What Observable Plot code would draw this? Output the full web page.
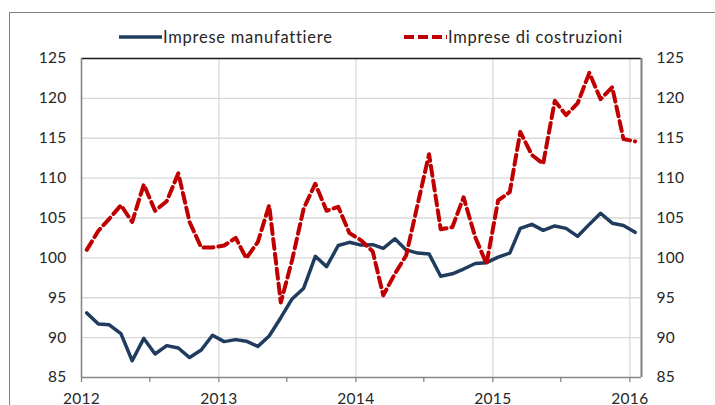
<!DOCTYPE html>
<html>
<head>
<meta charset="utf-8">
<script src="https://cdn.jsdelivr.net/npm/d3@7"></script>
<script src="https://cdn.jsdelivr.net/npm/@observablehq/plot@0.6"></script>
<style>
  html, body { margin: 0; padding: 0; background: #fff; width: 715px; height: 405px; overflow: hidden; }
  #wrap { position: relative; width: 715px; height: 405px; font-family: "Lato", sans-serif; }
  #frame { position: absolute; left: 9px; top: 12px; width: 800px; height: 500px; border: 1px solid #7f7f7f; pointer-events: none; }
  #legend { position: relative; width: 715px; height: 48px; }
  .item { position: absolute; top: 26px; height: 22px; display: flex; align-items: center; font-size: 16.5px; color: #262626; white-space: nowrap; }
  .item span { letter-spacing: 0.75px; }
  .item svg { display: block; margin-right: 1px; }
</style>
</head>
<body>
<div id="wrap">
  <div id="frame"></div>
  <div id="legend"></div>
  <div id="chart"></div>
</div>
<script>
// ---- data (monthly, Jan 2012 – Jan 2016) ----
const seriesNames = ["Imprese manufattiere", "Imprese di costruzioni"];
const seriesColors = ["#1f3b5e", "#c00000"];
const manufattiere = [
  93.1, 91.7, 91.6, 90.5, 87.1, 89.9, 87.95, 89.0, 88.7, 87.5, 88.45, 90.3,
  89.5, 89.75, 89.55, 88.9, 90.2, 92.5, 94.85, 96.2, 100.2, 98.9, 101.55, 101.95,
  101.6, 101.65, 101.2, 102.4, 101.0, 100.6, 100.5, 97.7, 98.0, 98.6, 99.3, 99.4,
  100.1, 100.6, 103.7, 104.2, 103.45, 104.0, 103.7, 102.7, 104.2, 105.6, 104.35, 104.05,
  103.2
];
const costruzioni = [
  101.0, 103.4, 104.9, 106.6, 104.5, 109.2, 105.9, 107.1, 110.6, 104.5, 101.3, 101.3,
  101.55, 102.5, 99.95, 102.0, 106.6, 94.4, 99.7, 106.2, 109.3, 105.9, 106.4, 103.1,
  102.2, 100.8, 95.3, 98.0, 100.3, 106.8, 113.0, 103.6, 103.85, 107.6, 102.6, 99.25,
  107.2, 108.25, 115.8, 112.9, 111.8, 119.7, 117.9, 119.4, 123.2, 119.9, 121.4, 114.9,
  114.6
];
const yTicks = [85, 90, 95, 100, 105, 110, 115, 120, 125];
const yearTicks = [2012, 2013, 2014, 2015, 2016];

// ---- derived tables ----
const start = new Date(Date.UTC(2012, 0, 1));
const end = new Date(Date.UTC(2016, 1, 1));
const months = d3.utcMonth.range(start, end);            // 49 months
const mid = months.map(m => d3.utcDay.offset(m, 14));     // plotted mid-month
const dataM = mid.map((d, i) => ({date: d, value: manufattiere[i]}));
const dataC = mid.map((d, i) => ({date: d, value: costruzioni[i]}));
const yearDates = yearTicks.map(y => new Date(Date.UTC(y, 0, 1)));
const tickDates = d3.utcMonth.every(6).range(start, d3.utcDay.offset(yearDates[yearDates.length - 1], 1));

// ---- legend ----
const legend = document.getElementById("legend");
const legendPos = [119, 404];
seriesNames.forEach((name, i) => {
  const it = document.createElement("div");
  it.className = "item";
  it.style.left = legendPos[i] + "px";
  const dash = i === 1 ? 'stroke-dasharray="10,4"' : "";
  it.innerHTML = `<svg width="43" height="8"><line x1="0" x2="43" y1="4" y2="4" stroke="${seriesColors[i]}" stroke-width="${i === 1 ? 4 : 3.5}" ${dash}/></svg><span>${name}</span>`;
  legend.appendChild(it);
});

// ---- chart ----
const grey = "#868686";
const chart = Plot.plot({
  width: 715,
  height: 357,
  marginTop: 10,
  marginBottom: 28,
  marginLeft: 81,
  marginRight: 74,
  style: {fontFamily: "Lato, sans-serif", fontSize: "15.5px", letterSpacing: "0.3px", color: "#262626", background: "transparent", overflow: "visible"},
  x: {type: "utc", domain: [start, end]},
  y: {domain: [85, 125]},
  marks: [
    Plot.gridY(yTicks.slice(1, -1), {stroke: "#d9d9d9", strokeOpacity: 1, strokeWidth: 1.3}),
    Plot.gridX(yearDates.slice(1), {stroke: "#d9d9d9", strokeOpacity: 1, strokeWidth: 1.3}),
    Plot.axisY(yTicks, {anchor: "left", tickSize: 0, tickPadding: 15, label: null}),
    Plot.axisY(yTicks, {anchor: "right", tickSize: 0, tickPadding: 15, label: null}),
    Plot.axisX(tickDates, {
      anchor: "bottom", tickSize: 5, tickPadding: 10, stroke: grey, strokeWidth: 1.3, label: null,
      tickFormat: d => d.getUTCMonth() === 0 ? String(d.getUTCFullYear()) : ""
    }),
    Plot.ruleY([85], {stroke: grey, strokeWidth: 1.6}),
    Plot.ruleY([125], {stroke: "#1a1a1a", strokeWidth: 1.3}),
    Plot.ruleX([start], {stroke: grey, strokeWidth: 1.6}),
    Plot.ruleX([end], {stroke: "#808080", strokeWidth: 2}),
    Plot.line(dataM, {x: "date", y: "value", stroke: seriesColors[0], strokeWidth: 3.5, strokeLinejoin: "round"}),
    Plot.line(dataC, {x: "date", y: "value", stroke: seriesColors[1], strokeWidth: 4, strokeDasharray: "10,5", strokeLinejoin: "round"})
  ]
});
document.getElementById("chart").appendChild(chart);
</script>
</body>
</html>
